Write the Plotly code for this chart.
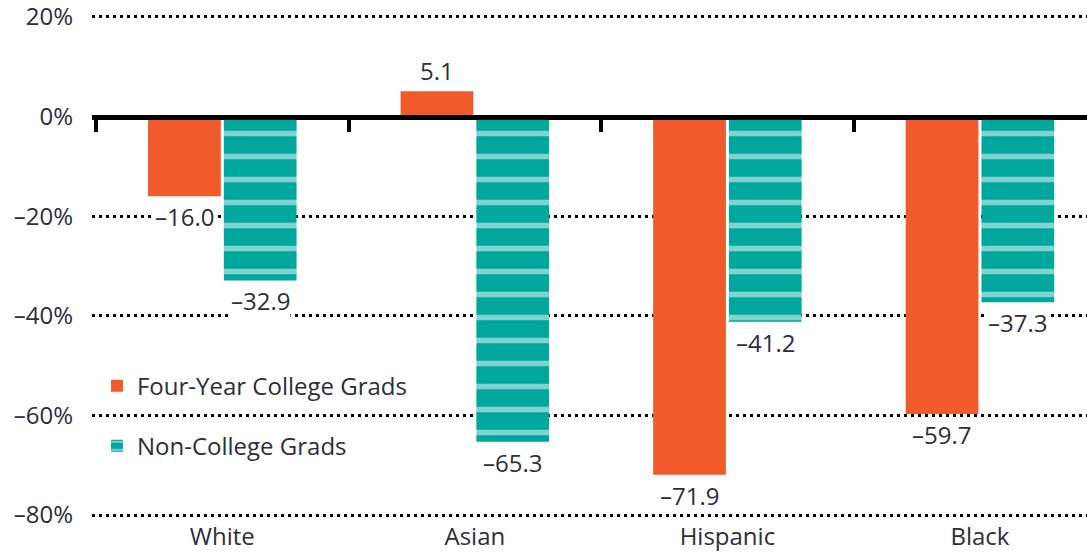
import plotly.graph_objects as go

categories = ["White", "Asian", "Hispanic", "Black"]
college = [-16.0, 5.1, -71.9, -59.7]
non_college = [-32.9, -65.3, -41.2, -37.3]
y_ticks = [20, 0, -20, -40, -60, -80]
y_tick_labels = ["20%", "0%", "\u201320%", "\u201340%", "\u201360%", "\u201380%"]

ORANGE = "#F15A2B"
TEAL = "#00A79D"
TXT = "#2e2d3a"
FONT = "Open Sans"
FS = 24

def fmt(v):
    return f"{v:.1f}".replace("-", "\u2013")

y_range = [-81, 22]
x_range = [-0.516, 3.424]

fig = go.Figure()
fig.add_trace(go.Bar(
    x=categories, y=college, name="Four-Year College Grads",
    marker=dict(color=ORANGE, line=dict(width=0)),
    legendgroup="a",
))
fig.add_trace(go.Bar(
    x=categories, y=non_college, name="Non-College Grads",
    marker=dict(color=TEAL, line=dict(width=0),
                pattern=dict(shape="-", fgcolor="white", size=23, solidity=0.24)),
    legendgroup="b",
))
# invisible helper trace for the zero-line axis with boundary ticks
fig.add_trace(go.Scatter(
    x=categories, y=[0] * len(categories), xaxis="x2", mode="markers",
    marker=dict(opacity=0), showlegend=False, hoverinfo="skip",
))

# value labels with white background (hide gridlines behind text)
annotations = []
for series, shift in ((college, -38), (non_college, 38)):
    for cat, v in zip(categories, series):
        annotations.append(dict(
            x=cat, y=v, xref="x", yref="y", text=fmt(v), showarrow=False,
            xshift=shift, yshift=(-3 if v < 0 else 3),
            yanchor=("top" if v < 0 else "bottom"),
            bgcolor="white", borderpad=0,
            font=dict(family=FONT, size=FS, color=TXT),
        ))

zero_pos = (0 - y_range[0]) / (y_range[1] - y_range[0])

fig.update_layout(
    width=1087, height=554,
    margin=dict(l=92, r=0, t=7, b=34),
    paper_bgcolor="white", plot_bgcolor="white",
    barmode="group", bargap=0.4, bargroupgap=0.04,
    font=dict(family=FONT, size=FS, color=TXT),
    annotations=annotations,
    xaxis=dict(
        type="category", range=x_range, showgrid=False, showline=False,
        ticks="", tickfont=dict(size=FS, color=TXT), zeroline=False,
        automargin=False, ticklabeloverflow="allow", ticklabelstandoff=0,
    ),
    xaxis2=dict(
        type="category", range=x_range, overlaying="x", anchor="free",
        position=zero_pos, side="bottom", showline=True, linecolor="black",
        linewidth=5, ticks="outside", tickson="boundaries", ticklen=12,
        tickwidth=4, tickcolor="black", showticklabels=False, showgrid=False,
        zeroline=False,
    ),
    yaxis=dict(
        range=y_range, tickvals=y_ticks, ticktext=y_tick_labels,
        showgrid=True, gridcolor="black", gridwidth=3, griddash="3px,4px",
        zeroline=False, showline=False, ticks="",
        tickfont=dict(size=FS, color=TXT), ticklabelstandoff=18,
        automargin=False, ticklabeloverflow="allow",
    ),
    legend=dict(
        x=0.005, y=0.305, xanchor="left", yanchor="top",
        bgcolor="rgba(0,0,0,0)", font=dict(size=FS, color=TXT),
        traceorder="grouped", tracegroupgap=26,
    ),
    showlegend=True,
)

fig.write_html("out.html")
